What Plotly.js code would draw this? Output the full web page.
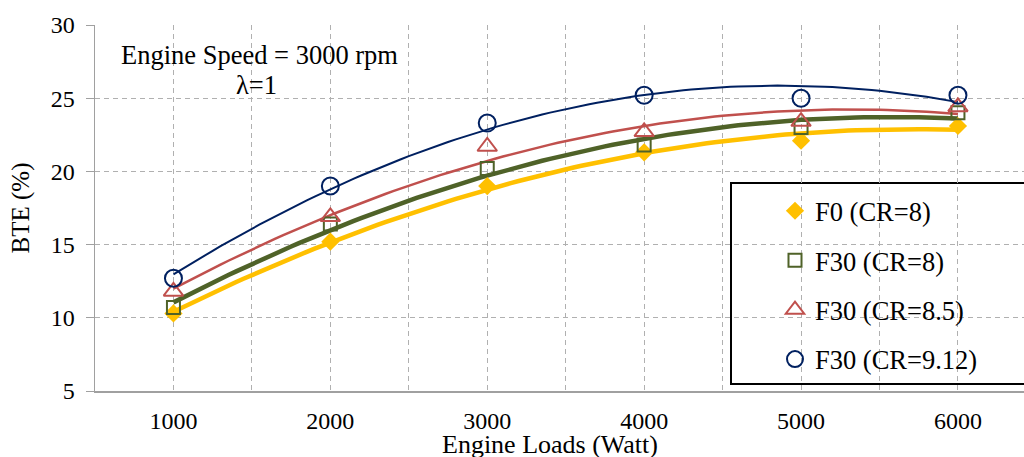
<!DOCTYPE html>
<html>
<head>
<meta charset="utf-8">
<script src="https://cdn.plot.ly/plotly-3.0.1.min.js"></script>
<style>html,body{margin:0;padding:0;background:#fff;}#chart{width:1024px;height:457px;}</style>
</head>
<body>
<div id="chart"></div>
<script>
// Data
const loads = [1000, 2000, 3000, 4000, 5000, 6000];
const seriesNames = ['F0 (CR=8)', 'F30 (CR=8)', 'F30 (CR=8.5)', 'F30 (CR=9.12)'];
const bteF0_CR8 = [10.3, 15.2, 19.0, 21.3, 22.1, 23.1];
const bteF30_CR8 = [10.7, 16.4, 20.2, 21.8, 23.0, 24.0];
const bteF30_CR85 = [11.8, 16.9, 21.7, 22.7, 23.4, 24.4];
const bteF30_CR912 = [12.7, 19.0, 23.3, 25.2, 25.0, 25.2];
const yTickVals = [5, 10, 15, 20, 25, 30];
const xTickVals = [1000, 2000, 3000, 4000, 5000, 6000];

// quadratic least-squares trendline (like a spreadsheet polynomial trendline)
function quadFit(xs, ys) {
  const n = xs.length;
  let s = [0,0,0,0,0], t = [0,0,0];
  for (let i = 0; i < n; i++) {
    const x = xs[i] / 1000, y = ys[i];
    let p = 1;
    for (let k = 0; k < 5; k++) { s[k] += p; p *= x; }
    t[0] += y; t[1] += y * x; t[2] += y * x * x;
  }
  const A = [[s[0], s[1], s[2], t[0]], [s[1], s[2], s[3], t[1]], [s[2], s[3], s[4], t[2]]];
  for (let c = 0; c < 3; c++) {
    for (let r = c + 1; r < 3; r++) {
      const f = A[r][c] / A[c][c];
      for (let k = c; k < 4; k++) A[r][k] -= f * A[c][k];
    }
  }
  const b = [0,0,0];
  for (let r = 2; r >= 0; r--) {
    let v = A[r][3];
    for (let k = r + 1; k < 3; k++) v -= A[r][k] * b[k];
    b[r] = v / A[r][r];
  }
  const xsOut = [], ysOut = [];
  const x0 = xs[0], x1 = xs[xs.length - 1];
  for (let i = 0; i <= 100; i++) {
    const x = x0 + (x1 - x0) * i / 100;
    const u = x / 1000;
    xsOut.push(x); ysOut.push(b[0] + b[1] * u + b[2] * u * u);
  }
  return {x: xsOut, y: ysOut};
}

const allData = [bteF0_CR8, bteF30_CR8, bteF30_CR85, bteF30_CR912];
const colors = ['#FFC000', '#4F6228', '#C0504D', '#002060'];
const lineWidths = [4.5, 4.5, 2.5, 2];
const markerSymbols = ['diamond', 'square-open', 'triangle-up-open', 'circle-open'];
const markerSizes = [14, 13, 17, 17];

const traces = [];
allData.forEach((d, i) => {
  const fit = quadFit(loads, d);
  traces.push({x: fit.x, y: fit.y, mode: 'lines', showlegend: false, hoverinfo: 'skip',
    line: {color: colors[i], width: lineWidths[i]}});
});
allData.forEach((d, i) => {
  traces.push({x: loads, y: d, mode: 'markers', name: seriesNames[i], legendgroup: 'g' + i,
    marker: {symbol: markerSymbols[i], size: markerSizes[i], color: colors[i],
      line: {color: colors[i], width: i === 0 ? 0 : 2}}});
});

const font = 'Liberation Serif, Times New Roman, serif';
const gridCol = '#B0B0B0';
// pixel helpers for paper coordinates (plot area: x 95..1024, y 25..391)
const px = v => (v - 95) / 929;
const py = v => (391 - v) / 366;
const layout = {
  width: 1024, height: 457,
  margin: {l: 95, r: 0, t: 25, b: 66},
  paper_bgcolor: '#fff', plot_bgcolor: '#fff',
  font: {family: font, color: '#000', size: 24},
  showlegend: true,
  xaxis: {
    range: [500, 6421], tickvals: xTickVals, ticktext: xTickVals.map(String),
    showgrid: true, gridcolor: gridCol, griddash: '5px,4px', gridwidth: 1,
    minor: {dtick: 500, tick0: 500, showgrid: true, gridcolor: gridCol, griddash: '5px,4px', gridwidth: 1},
    showline: true, linecolor: '#A0A0A0', linewidth: 1.5, ticks: '', zeroline: false,
    tickfont: {family: font, size: 24}, ticklabelstandoff: 8
  },
  yaxis: {
    range: [5, 30], tickvals: yTickVals,
    showgrid: true, gridcolor: gridCol, griddash: '5px,4px', gridwidth: 1,
    showline: true, linecolor: '#A0A0A0', linewidth: 1.5, ticks: 'outside', ticklen: 8, tickcolor: '#A0A0A0',
    zeroline: false, tickfont: {family: font, size: 24}, ticklabelstandoff: 6,
    title: {text: 'BTE (%)', font: {family: font, size: 25}, standoff: 14}
  },
  legend: {
    x: px(731), y: py(187), xanchor: 'left', yanchor: 'top',
    bgcolor: 'rgba(0,0,0,0)', borderwidth: 0,
    font: {family: font, size: 26.5}, tracegroupgap: 12, indentation: 44, itemwidth: 30
  },
  shapes: [
    {type: 'rect', xref: 'paper', yref: 'paper', x0: px(731), x1: px(1040), y0: py(384), y1: py(183),
      fillcolor: '#fff', line: {color: '#000', width: 2}, layer: 'between'}
  ],
  annotations: [
    {xref: 'paper', yref: 'paper', x: px(259), y: py(55), text: 'Engine Speed = 3000 rpm',
      showarrow: false, font: {family: font, size: 26.5}, xanchor: 'center', yanchor: 'middle'},
    {xref: 'paper', yref: 'paper', x: px(256), y: py(85), text: 'λ=1',
      showarrow: false, font: {family: font, size: 26.5}, xanchor: 'center', yanchor: 'middle'},
    {xref: 'paper', yref: 'paper', x: px(550), y: py(444), text: 'Engine Loads (Watt)',
      showarrow: false, font: {family: font, size: 26}, xanchor: 'center', yanchor: 'middle'}
  ]
};

Plotly.newPlot('chart', traces, layout, {displayModeBar: false, staticPlot: true});
</script>
</body>
</html>
